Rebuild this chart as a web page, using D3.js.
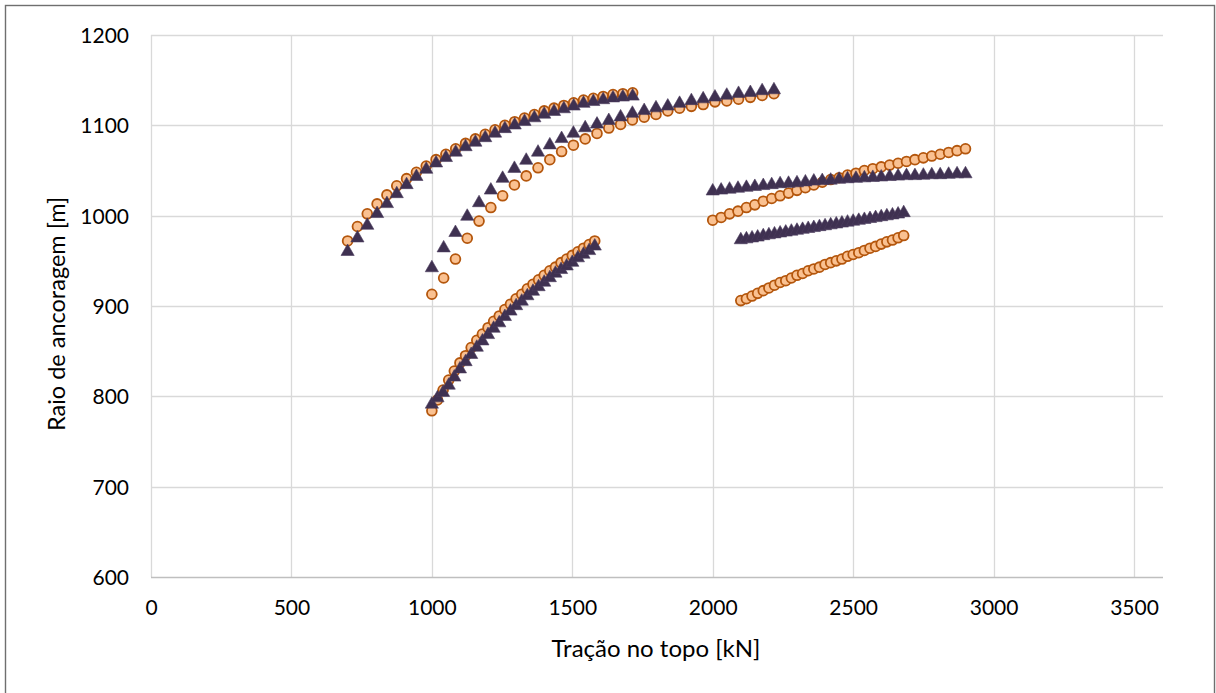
<!DOCTYPE html>
<html>
<head>
<meta charset="utf-8">
<script src="https://cdn.jsdelivr.net/npm/d3@7"></script>
<style>
  html, body { margin: 0; padding: 0; background: #ffffff; }
  svg { display: block; font-family: Lato, "Open Sans", sans-serif; }
</style>
</head>
<body>
<svg id="chart" width="1216" height="693"></svg>
<script>
// Tick labels
const xTicks = [0, 500, 1000, 1500, 2000, 2500, 3000, 3500];
const yTicks = [600, 700, 800, 900, 1000, 1100, 1200];

// Group A
const xA = [700, 735, 770, 805, 840, 875, 910, 945, 980, 1015, 1050, 1085, 1120, 1155, 1190,
            1225, 1260, 1295, 1330, 1365, 1400, 1435, 1470, 1505, 1540, 1575, 1610, 1645, 1680, 1715];
const circA = [972, 988, 1002, 1013, 1023, 1033, 1041, 1048, 1055, 1062, 1068, 1074, 1080, 1085, 1090,
               1095, 1100, 1104, 1108, 1112, 1116, 1119, 1122, 1125, 1128, 1130, 1132, 1134, 1135, 1136];
const triA = [962, 977, 991, 1004, 1015, 1026, 1036, 1045, 1053, 1060, 1066, 1072, 1078, 1083, 1088,
              1093, 1098, 1102, 1106, 1110, 1114, 1117, 1120, 1123, 1126, 1128, 1130, 1132, 1133, 1134];

// Group B
const xB = [1000, 1042, 1084, 1126, 1168, 1210, 1252, 1294, 1336, 1378, 1420, 1462, 1504, 1546, 1588,
            1630, 1672, 1714, 1756, 1798, 1840, 1882, 1924, 1966, 2008, 2050, 2092, 2134, 2176, 2218];
const circB = [913, 931, 952, 975, 994, 1009, 1022, 1034, 1044, 1053, 1062, 1071, 1078, 1085, 1091,
               1097, 1101, 1106, 1109, 1112, 1116, 1119, 1121, 1123, 1126, 1127, 1129, 1131, 1133, 1135];
const triB = [944, 966, 983, 1001, 1016, 1030, 1043, 1054, 1063, 1072, 1080, 1087, 1093, 1099, 1103,
              1107, 1111, 1115, 1118, 1121, 1123, 1126, 1129, 1131, 1133, 1135, 1137, 1138, 1140, 1141];

// Group C
const xC = [1000, 1020, 1040, 1060, 1080, 1100, 1120, 1140, 1160, 1180, 1200, 1220, 1240, 1260, 1280,
            1300, 1320, 1340, 1360, 1380, 1400, 1420, 1440, 1460, 1480, 1500, 1520, 1540, 1560, 1580];
const circC = [784, 796, 807, 818, 828, 837, 845, 854, 862, 869, 876, 883, 889, 896, 902,
               908, 913, 919, 924, 929, 934, 939, 943, 948, 952, 956, 960, 964, 968, 972];
const triC = [793, 800, 806, 814, 823, 832, 840, 848, 856, 863, 870, 877, 883, 890, 896,
              902, 907, 913, 918, 923, 928, 933, 938, 942, 946, 950, 955, 959, 963, 968];

// Group D
const xD = [2000, 2030, 2060, 2090, 2120, 2150, 2180, 2210, 2240, 2270, 2300, 2330, 2360, 2390, 2420, 2450,
            2480, 2510, 2540, 2570, 2600, 2630, 2660, 2690, 2720, 2750, 2780, 2810, 2840, 2870, 2900];
const circD = [995, 998, 1002, 1005, 1009, 1012, 1016, 1019, 1022, 1025, 1028, 1031, 1034, 1037, 1040, 1042,
               1045, 1047, 1050, 1052, 1054, 1056, 1058, 1060, 1062, 1064, 1066, 1068, 1070, 1072, 1074];
const triD = [1029, 1030, 1031, 1032, 1033, 1034, 1035, 1036, 1037, 1037.5, 1038, 1039, 1040, 1040.5, 1041, 1042,
              1042.5, 1043, 1043.5, 1044, 1044.5, 1045, 1045.5, 1046, 1046, 1046.5, 1047, 1047, 1047.5, 1048, 1048];

// Group E
const xE = [2100, 2120, 2140, 2160, 2180, 2200, 2220, 2240, 2260, 2280, 2300, 2320, 2340, 2360, 2380,
            2400, 2420, 2440, 2460, 2480, 2500, 2520, 2540, 2560, 2580, 2600, 2620, 2640, 2660, 2680];
const circE = [906, 908, 911, 914, 917, 920, 923, 926, 928, 931, 934, 936, 939, 941, 943,
               946, 948, 950, 952, 955, 957, 959, 961.5, 964, 966, 968.5, 971, 973, 975.5, 978];
const triE = [975, 976, 977, 978, 979.5, 980.5, 981.5, 982.5, 983.5, 984.5, 985.5, 986.5, 987.5, 988.5, 989.5,
              990.5, 991.5, 992.5, 993.5, 994.5, 995.5, 996.5, 997.5, 998.5, 999.5, 1000.5, 1001.5, 1002.5, 1003.5, 1005];

const groups = [
  { x: xA, circ: circA, tri: triA },
  { x: xB, circ: circB, tri: triB },
  { x: xC, circ: circC, tri: triC },
  { x: xD, circ: circD, tri: triD },
  { x: xE, circ: circE, tri: triE }
];

const svg = d3.select("#chart");

// Outer frame
svg.append("rect")
  .attr("x", 5.5).attr("y", 5.5)
  .attr("width", 1209).attr("height", 692)
  .attr("fill", "none").attr("stroke", "#6f6f6f").attr("stroke-width", 1.4);

const plotLeft = 151, plotRight = 1163, plotTop = 35, plotBottom = 577;

const x = d3.scaleLinear().domain([0, 3500]).range([plotLeft, 1134]);
const y = d3.scaleLinear().domain([600, 1200]).range([plotBottom, plotTop]);

const grid = svg.append("g");
// Horizontal gridlines
grid.selectAll("line.h").data(yTicks.filter(v => v !== 600)).join("line")
  .attr("x1", plotLeft).attr("x2", plotRight)
  .attr("y1", d => Math.round(y(d)) + 0.5).attr("y2", d => Math.round(y(d)) + 0.5)
  .attr("stroke", "#d9d9d9").attr("stroke-width", 1.3);
// Vertical gridlines
grid.selectAll("line.v").data(xTicks).join("line")
  .attr("y1", plotTop).attr("y2", plotBottom)
  .attr("x1", d => Math.round(x(d)) + 0.5).attr("x2", d => Math.round(x(d)) + 0.5)
  .attr("stroke", "#d9d9d9").attr("stroke-width", 1.3);

// Bottom axis line
svg.append("line")
  .attr("x1", plotLeft).attr("x2", plotRight)
  .attr("y1", Math.round(y(600)) + 0.5).attr("y2", Math.round(y(600)) + 0.5)
  .attr("stroke", "#bfbfbf").attr("stroke-width", 1.5);

// Axes (labels only, no ticks)
const xAxis = d3.axisBottom(x).tickValues(xTicks).tickSize(0).tickPadding(0).tickFormat(d3.format("d"));
const yAxis = d3.axisLeft(y).tickValues(yTicks).tickSize(0).tickPadding(0).tickFormat(d3.format("d"));

const gx = svg.append("g").attr("transform", `translate(0, 615)`).call(xAxis);
gx.select(".domain").remove();
gx.selectAll("text").attr("dy", 0).attr("fill", "#000").attr("font-size", 21)
  .style("font-family", "Lato, 'Open Sans', sans-serif");

const gy = svg.append("g").attr("transform", `translate(129, 7.5)`).call(yAxis);
gy.select(".domain").remove();
gy.selectAll("text").attr("dy", 0).attr("fill", "#000").attr("font-size", 21)
  .style("font-family", "Lato, 'Open Sans', sans-serif");

// Axis titles
svg.append("text")
  .attr("x", 656).attr("y", 657)
  .attr("text-anchor", "middle").attr("font-size", 24).attr("fill", "#000")
  .text("Tração no topo [kN]");

svg.append("text")
  .attr("transform", "translate(65, 314) rotate(-90)")
  .attr("text-anchor", "middle").attr("font-size", 23.5).attr("fill", "#000")
  .text("Raio de ancoragem [m]");

// Markers
const triPath = "M0,-6 L6.6,5.5 L-6.6,5.5 Z";
const marks = svg.append("g");
groups.forEach(g => {
  const gg = marks.append("g");
  gg.selectAll("circle").data(g.x.map((v, i) => [v, g.circ[i]])).join("circle")
    .attr("cx", d => x(d[0])).attr("cy", d => y(d[1]))
    .attr("r", 4.9)
    .attr("fill", "#fac191").attr("stroke", "#b4560c").attr("stroke-width", 1.8);
  gg.selectAll("path").data(g.x.map((v, i) => [v, g.tri[i]])).join("path")
    .attr("d", triPath)
    .attr("transform", d => `translate(${x(d[0])},${y(d[1])})`)
    .attr("fill", "#3f3151").attr("stroke", "#4b3d5e").attr("stroke-width", 0.6);
});
</script>
</body>
</html>
